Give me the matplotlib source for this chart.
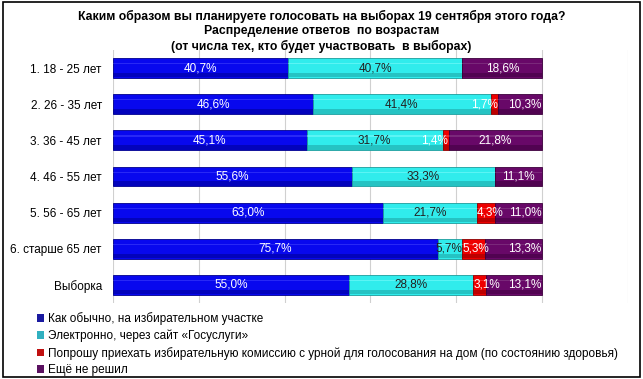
import matplotlib.pyplot as plt
from matplotlib.patches import Patch
import numpy as np

plt.rcParams['font.family'] = ['Liberation Sans', 'DejaVu Sans']

# data
groups = ['1. 18 - 25 лет', '2. 26 - 35 лет', '3. 36 - 45 лет', '4. 46 - 55 лет',
          '5. 56 - 65 лет', '6. старше 65 лет', 'Выборка']
usual = [40.7, 46.6, 45.1, 55.6, 63.0, 75.7, 55.0]
online = [40.7, 41.4, 31.7, 33.3, 21.7, 5.7, 28.8]
home = [0.0, 1.7, 1.4, 0.0, 4.3, 5.3, 3.1]
undecided = [18.6, 10.3, 21.8, 11.1, 11.0, 13.3, 13.1]

series_names = ['Как обычно, на избирательном участке',
                'Электронно, через сайт «Госуслуги»',
                'Попрошу приехать избирательную комиссию с урной для голосования на дом (по состоянию здоровья)',
                'Ещё не решил']

title = ('Каким образом вы планируете голосовать на выборах 19 сентября этого года?\n'
         'Распределение ответов  по возрастам\n'
         '(от числа тех, кто будет участвовать  в выборах)')

colors = ['#0808ee', '#30ecec', '#ee0000', '#680868']
darks = ['#00008c', '#1c9c9c', '#8c0000', '#3c003c']
lights = ['#5050ff', '#90ffff', '#ff6060', '#905090']
txtcol = ['white', '#222222', 'white', 'white']
legcol = ['#1a1aa0', '#30b0c0', '#c01010', '#5a1060']

fig = plt.figure(figsize=(6.43, 3.79), dpi=100)
ax = fig.add_axes([0.1757, 0.2005, 0.801, 0.6675])

y = np.arange(len(groups))
data = [usual, online, home, undecided]
h = 0.55
left = np.zeros(len(groups))
for k, vals in enumerate(data):
    vals = np.array(vals)
    ax.barh(y, vals, left=left, height=h, color=colors[k],
            edgecolor=darks[k], linewidth=0.6, zorder=3)
    # simple bevel: dark lower band, light stripe near the top
    ax.barh(y + h * 0.36, vals, left=left, height=h * 0.22, color=darks[k],
            linewidth=0, alpha=0.5, zorder=3.5)
    ax.barh(y - h * 0.22, vals, left=left, height=h * 0.06, color=lights[k],
            linewidth=0, alpha=0.45, zorder=3.5)
    for i, v in enumerate(vals):
        if v <= 0:
            continue
        s = ('%.1f%%' % v).replace('.', ',')
        if k == 2 and v >= 3:
            # crowded small red segments: label starts at segment start
            ax.text(left[i] + 0.1, y[i], s, ha='left', va='center',
                    fontsize=8.5, color=txtcol[k], zorder=5)
        elif k == 3 and home[i] > 0 and v < 15:
            ax.text(left[i] + v - 0.2, y[i], s, ha='right', va='center',
                    fontsize=8.5, color=txtcol[k], zorder=5)
        elif v < 6:
            ax.text(left[i] + v - 0.1, y[i], s, ha='right', va='center',
                    fontsize=8.5, color=txtcol[k], zorder=5)
        else:
            ax.text(left[i] + v / 2, y[i], s, ha='center', va='center',
                    fontsize=8.5, color=txtcol[k], zorder=5)
    left += vals

ax.set_xlim(0, 120)
ax.set_ylim(len(groups) - 0.5, -0.5)
ax.set_xticks(np.arange(0, 121, 20))
ax.xaxis.grid(True, color='#d0d0d0', lw=0.8, zorder=0)
ax.tick_params(axis='x', length=0, labelbottom=False)
ax.tick_params(axis='y', length=0, pad=8, labelsize=8.5)
ax.set_yticks(y)
ax.set_yticklabels(groups)
for s in ax.spines.values():
    s.set_visible(False)

fig.text(0.5, 0.975, title, ha='center', va='top', fontsize=8.8,
         fontweight='bold', linespacing=1.3)

# legend
leg_handles = [Patch(facecolor=c, edgecolor='none') for c in legcol]
fig.legend(leg_handles, series_names, loc='upper left', bbox_to_anchor=(0.058, 0.176),
           frameon=False, fontsize=8.5, handlelength=0.6, handleheight=0.6,
           handletextpad=0.3, labelspacing=0.38, borderpad=0, borderaxespad=0)

# outer frame
fig.patches.append(plt.Rectangle((0.004, 0.005), 0.992, 0.99, transform=fig.transFigure,
                                 fill=False, edgecolor='black', lw=1.2))

fig.savefig('out.png', dpi=100)
